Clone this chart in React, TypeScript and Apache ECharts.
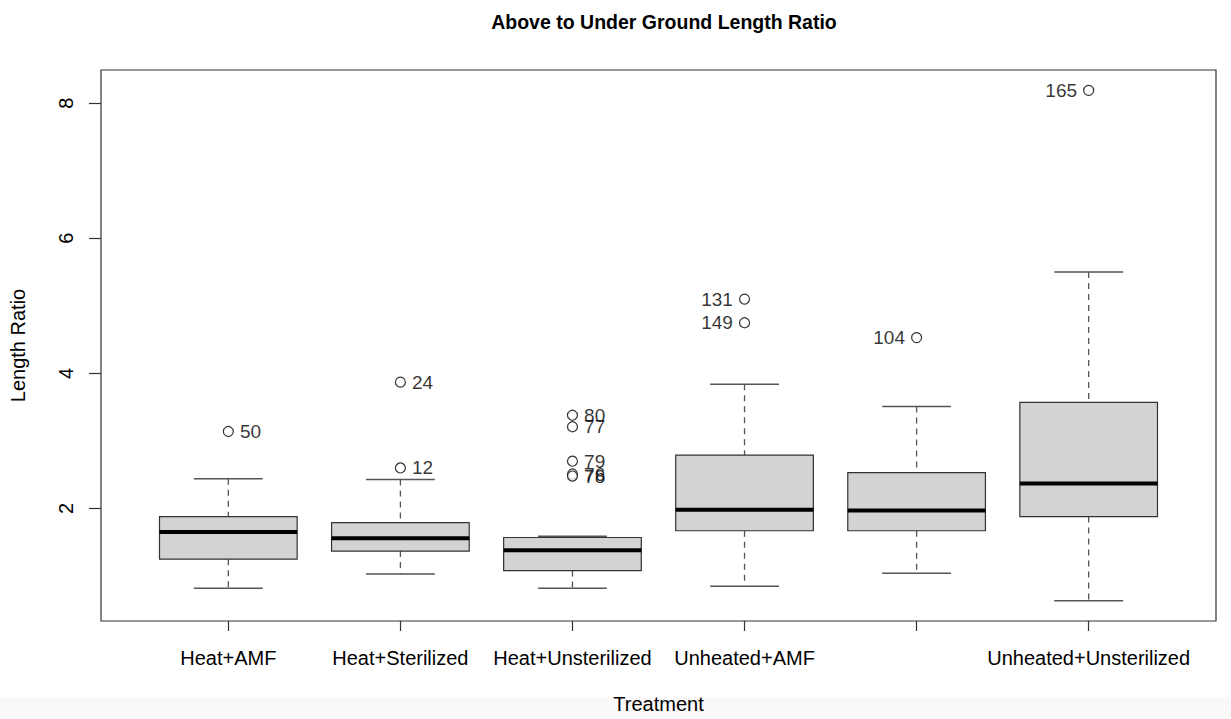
import React, { useEffect, useRef } from "react";
import * as echarts from "echarts";

const title = "Above to Under Ground Length Ratio";
const categories = ["Heat+AMF", "Heat+Sterilized", "Heat+Unsterilized", "Unheated+AMF", "Unheated+Sterilized", "Unheated+Unsterilized"];
const tickLabels = ["Heat+AMF", "Heat+Sterilized", "Heat+Unsterilized", "Unheated+AMF", "", "Unheated+Unsterilized"];
const lowerWhisker = [0.82, 1.03, 0.82, 0.85, 1.04, 0.635];
const q1Values = [1.25, 1.37, 1.08, 1.67, 1.67, 1.88];
const medianValues = [1.65, 1.56, 1.38, 1.98, 1.97, 2.37];
const q3Values = [1.88, 1.79, 1.57, 2.79, 2.53, 3.57];
const upperWhisker = [2.44, 2.43, 1.59, 3.84, 3.51, 5.5];
const outlierGroup = [1, 2, 2, 3, 3, 3, 3, 3, 4, 4, 5, 6];
const outlierValue = [3.14, 3.87, 2.6, 3.38, 3.21, 2.7, 2.51, 2.48, 5.1, 4.75, 4.53, 8.19];
const outlierLabel = ["50", "24", "12", "80", "77", "79", "76", "78", "131", "149", "104", "165"];
const outlierSide = ["right", "right", "right", "right", "right", "right", "right", "right", "left", "left", "left", "left"];
const yTicks = [2, 4, 6, 8];

const FONT = "'Liberation Sans', Arial, Helvetica, sans-serif";

export default function App() {
  const ref = useRef<HTMLDivElement>(null);
  useEffect(() => {
    if (!ref.current) return;
    const chart = echarts.init(ref.current, null, { renderer: "svg" });
    const xPositions = categories.map((_, i) => i + 1);
    const boxData = categories.map((_, i) => [
      i + 1,
      lowerWhisker[i],
      q1Values[i],
      medianValues[i],
      q3Values[i],
      upperWhisker[i],
    ]);
    const boxHalf = 0.4;
    const capHalf = 0.2;
    const outData = outlierValue.map((v, i) => ({
      value: [outlierGroup[i], v],
      label: { position: outlierSide[i], formatter: outlierLabel[i] },
    }));
    chart.setOption({
      animation: false,
      backgroundColor: "#ffffff",
      textStyle: { fontFamily: FONT },
      title: {
        text: title,
        left: 659,
        textAlign: "center",
        top: 7,
        textStyle: { fontFamily: FONT, fontSize: 19.5, fontWeight: "bold", color: "#000" },
      },
      graphic: [
        {
          type: "rect",
          z: -10,
          shape: { x: 0, y: 697, width: 1231, height: 22 },
          style: { fill: "#f9f9f9" },
        },
      ],
      grid: {
        left: 100.7,
        right: 15,
        top: 70,
        bottom: 96.3,
        show: true,
        borderColor: "#333",
        borderWidth: 1.2,
        backgroundColor: "transparent",
      },
      xAxis: {
        type: "value",
        min: 0.26,
        max: 6.74,
        name: "Treatment",
        nameLocation: "middle",
        nameGap: 73,
        nameTextStyle: { fontFamily: FONT, fontSize: 20, color: "#000" },
        axisLine: { show: false },
        splitLine: { show: false },
        axisTick: { show: true, length: 10, customValues: xPositions, lineStyle: { color: "#333", width: 1.2 } },
        axisLabel: {
          customValues: xPositions,
          margin: 27,
          fontFamily: FONT,
          fontSize: 20,
          color: "#000",
          formatter: (v: number) => tickLabels[Math.round(v) - 1] ?? "",
        },
      },
      yAxis: {
        type: "value",
        min: 0.334,
        max: 8.492,
        name: "Length Ratio",
        nameLocation: "middle",
        nameGap: 73,
        nameTextStyle: { fontFamily: FONT, fontSize: 20, color: "#000" },
        axisLine: { show: false },
        splitLine: { show: false },
        axisTick: { show: true, length: 12, customValues: yTicks, lineStyle: { color: "#333", width: 1.2 } },
        axisLabel: {
          customValues: yTicks,
          rotate: 90,
          margin: 25,
          fontFamily: FONT,
          fontSize: 20,
          color: "#000",
        },
      },
      series: [
        {
          type: "custom",
          data: boxData,
          encode: { x: 0, y: [1, 2, 3, 4, 5] },
          renderItem: (params: any, api: any) => {
            const x = api.value(0);
            const lo = api.value(1);
            const q1 = api.value(2);
            const md = api.value(3);
            const q3 = api.value(4);
            const hi = api.value(5);
            const c = (xx: number, yy: number) => api.coord([xx, yy]);
            const pHi = c(x, hi);
            const pQ3 = c(x, q3);
            const pMd = c(x, md);
            const pQ1 = c(x, q1);
            const pLo = c(x, lo);
            const bl = c(x - boxHalf, md)[0];
            const br = c(x + boxHalf, md)[0];
            const sl = c(x - capHalf, md)[0];
            const sr = c(x + capHalf, md)[0];
            const wStyle = { stroke: "#555", lineWidth: 1.3, lineDash: [6, 5] };
            const cStyle = { stroke: "#555", lineWidth: 1.5 };
            return {
              type: "group",
              children: [
                { type: "line", shape: { x1: pHi[0], y1: pHi[1], x2: pQ3[0], y2: pQ3[1] }, style: wStyle },
                { type: "line", shape: { x1: pQ1[0], y1: pQ1[1], x2: pLo[0], y2: pLo[1] }, style: wStyle },
                { type: "line", shape: { x1: sl, y1: pHi[1], x2: sr, y2: pHi[1] }, style: cStyle },
                { type: "line", shape: { x1: sl, y1: pLo[1], x2: sr, y2: pLo[1] }, style: cStyle },
                {
                  type: "rect",
                  shape: { x: bl, y: pQ3[1], width: br - bl, height: pQ1[1] - pQ3[1] },
                  style: { fill: "#d3d3d3", stroke: "#333", lineWidth: 1.2 },
                },
                { type: "line", shape: { x1: bl, y1: pMd[1], x2: br, y2: pMd[1] }, style: { stroke: "#000", lineWidth: 4 } },
              ],
            };
          },
        },
        {
          type: "scatter",
          data: outData,
          symbol: "circle",
          symbolSize: 10,
          itemStyle: { color: "#fff", borderColor: "#000", borderWidth: 1.2 },
          label: { show: true, distance: 6, fontFamily: FONT, fontSize: 19, color: "#000" },
          z: 5,
        },
      ],
    });
    return () => chart.dispose();
  }, []);
  return <div ref={ref} style={{ position: "fixed", left: 0, top: 0, width: 1231, height: 719 }} />;
}
